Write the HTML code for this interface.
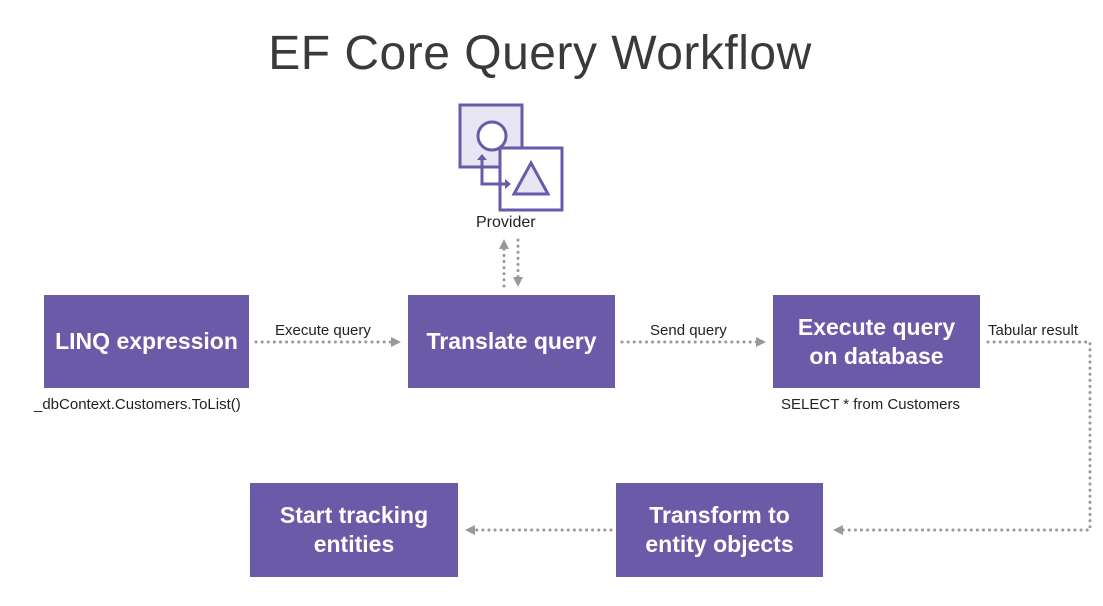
<!DOCTYPE html><html><head><style>
body{margin:0;width:1103px;height:606px;background:#fff;font-family:"Liberation Sans",sans-serif;position:relative;overflow:hidden}
.b{position:absolute;background:#6a5aa8;color:#fff;font-weight:bold;font-size:23px;display:flex;align-items:center;justify-content:center;text-align:center;line-height:29px}
.t{position:absolute;font-size:15px;color:#222;white-space:nowrap}
</style></head><body>
<div style="position:absolute;left:0;width:1080px;top:26px;text-align:center;font-size:48px;color:#3a3a3a;letter-spacing:0.5px">EF Core Query Workflow</div>
<div class="b" style="left:44px;top:295px;width:205px;height:93px">LINQ expression</div>
<div class="b" style="left:408px;top:295px;width:207px;height:93px">Translate query</div>
<div class="b" style="left:773px;top:295px;width:207px;height:93px">Execute query<br>on database</div>
<div class="b" style="left:616px;top:483px;width:207px;height:94px">Transform to<br>entity objects</div>
<div class="b" style="left:250px;top:483px;width:208px;height:94px">Start tracking<br>entities</div>
<div class="t" style="left:275px;top:322px">Execute query</div>
<div class="t" style="left:650px;top:322px">Send query</div>
<div class="t" style="left:988px;top:322px">Tabular result</div>
<div class="t" style="left:34px;top:396px">_dbContext.Customers.ToList()</div>
<div class="t" style="left:781px;top:396px">SELECT * from Customers</div>
<div class="t" style="left:476px;top:214px;font-size:16px">Provider</div>
<svg width="1103" height="606" style="position:absolute;left:0;top:0">
<defs><marker id="a" markerWidth="10" markerHeight="10" refX="7" refY="5" orient="auto" markerUnits="userSpaceOnUse"><path d="M0,0L10,5L0,10z" fill="#999"/></marker></defs>
<g stroke="#999" stroke-width="3" stroke-dasharray="0.1 6" stroke-linecap="round" fill="none">
<path d="M256,342H398" marker-end="url(#a)"/>
<path d="M622,342H763" marker-end="url(#a)"/>
<path d="M988,342H1090V530H836" marker-end="url(#a)"/>
<path d="M611,530H468" marker-end="url(#a)"/>
<path d="M504,286V242" marker-end="url(#a)"/>
<path d="M518,240V284" marker-end="url(#a)"/>
</g>
<g stroke="#6a5aa8" stroke-width="3">
<rect x="460" y="105" width="62" height="62" fill="#e8e5f4"/>
<circle cx="492" cy="136" r="14" fill="#fff"/>
<rect x="500" y="148" width="62" height="62" fill="#fff"/>
<path d="M531,163L548,194H514Z" fill="#e8e5f4"/>
<path d="M482,158V184H506" fill="none"/>
</g>
<path d="M477,160L482,154L487,160Z M505,179L511,184L505,189Z" fill="#6a5aa8"/>
</svg>
</body></html>
